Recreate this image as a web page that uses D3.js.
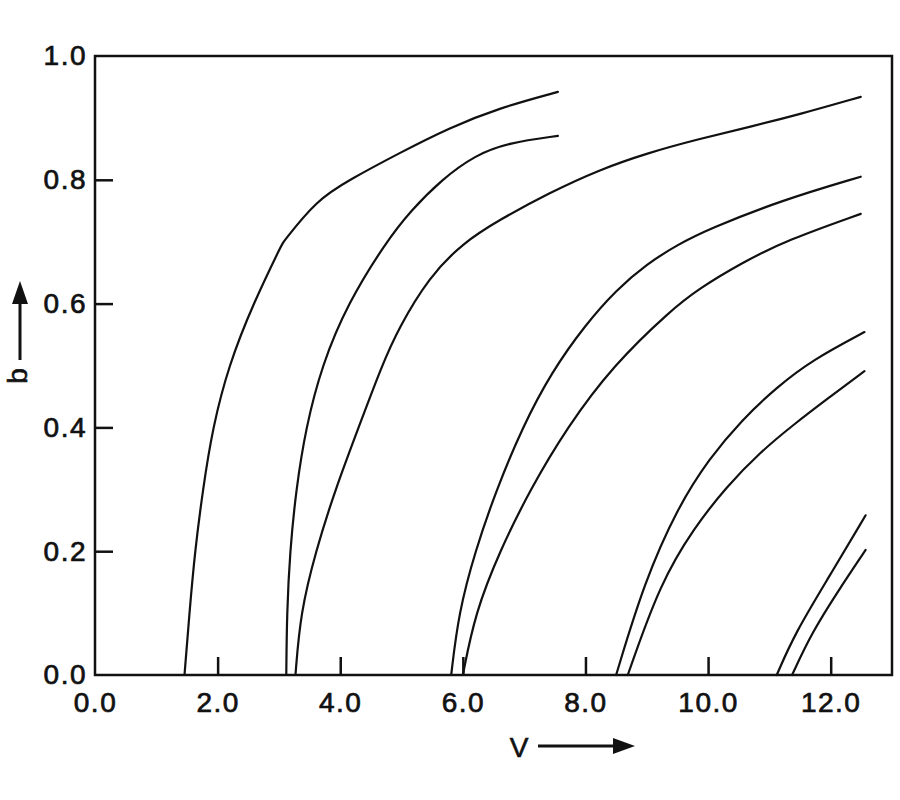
<!DOCTYPE html>
<html>
<head>
<meta charset="utf-8">
<script src="https://cdn.jsdelivr.net/npm/d3@7"></script>
<style>
  html, body { margin: 0; padding: 0; background: #fff; }
  svg { display: block; }
</style>
</head>
<body>
<svg id="chart" width="900" height="800"></svg>
<script>
// ---- data: [V, b] ----
const xTicks = [0, 2, 4, 6, 8, 10, 12];
const xTickLabels = ["0.0", "2.0", "4.0", "6.0", "8.0", "10.0", "12.0"];
const yTicks = [0, 0.2, 0.4, 0.6, 0.8, 1.0];
const yTickLabels = ["0.0", "0.2", "0.4", "0.6", "0.8", "1.0"];
const xLabel = "V";
const yLabel = "b";

const curve1 = [[1.46,0],[1.54,0.1],[1.63,0.2],[1.76,0.3],[1.92,0.4],[2.18,0.5],[2.58,0.6],[3.06,0.698],[3.06,0.698],[3.61,0.767],[4.15,0.80],[4.96,0.843],[5.78,0.884],[6.59,0.916],[7.55,0.942]];
const curve2 = [[3.12,0],[3.13,0.1],[3.18,0.2],[3.28,0.3],[3.44,0.4],[3.7,0.5],[4.12,0.6],[4.75,0.7],[5.15,0.75],[5.65,0.8],[6.2,0.84],[6.75,0.86],[7.55,0.871]];
const curve3 = [[3.27,0],[3.35,0.1],[3.6,0.2],[3.92,0.3],[4.3,0.4],[4.68,0.5],[4.95,0.56],[5.45,0.643],[6.0,0.698],[6.59,0.735],[7.41,0.779],[8.22,0.816],[9.0,0.843],[9.85,0.866],[10.7,0.886],[11.5,0.906],[12.49,0.934]];
const curve4 = [[5.81,0],[5.93,0.1],[6.2,0.2],[6.55,0.3],[6.97,0.4],[7.45,0.49],[8.0,0.566],[8.5,0.622],[9.0,0.664],[9.5,0.695],[10.0,0.72],[11.2,0.767],[12.49,0.805]];
const curve5 = [[6.0,0],[6.2,0.1],[6.6,0.2],[7.1,0.3],[7.7,0.4],[8.45,0.5],[9.4,0.59],[9.85,0.624],[10.55,0.666],[11.3,0.703],[12.49,0.745]];
const curve6 = [[8.5,0],[8.96,0.15],[9.5,0.27],[10.02,0.35],[10.55,0.412],[11.12,0.465],[11.7,0.509],[12.55,0.554]];
const curve7 = [[8.69,0],[9.22,0.149],[9.78,0.239],[10.3,0.304],[10.85,0.36],[11.4,0.405],[11.97,0.448],[12.55,0.491]];
const curve8 = [[11.12,0],[11.42,0.068],[11.97,0.158],[12.57,0.258]];
const curve9 = [[11.37,0],[11.69,0.068],[12.13,0.137],[12.57,0.202]];
const curves = [curve1, curve2, curve3, curve4, curve5, curve6, curve7, curve8, curve9];

// ---- layout ----
const svg = d3.select("#chart");
const mLeft = 95, mRight = 892, mTop = 56, mBottom = 675;
const x = d3.scaleLinear().domain([0, 13]).range([mLeft, mRight]);
const y = d3.scaleLinear().domain([0, 1]).range([mBottom, mTop]);
const font = '"Liberation Sans", Arial, Helvetica, sans-serif';

// frame
svg.append("rect")
  .attr("x", mLeft).attr("y", mTop)
  .attr("width", mRight - mLeft).attr("height", mBottom - mTop)
  .attr("fill", "none").attr("stroke", "#111").attr("stroke-width", 2.5);

// axes with inward ticks
const xAxis = d3.axisBottom(x).tickValues(xTicks)
  .tickFormat((d, i) => xTickLabels[i]).tickSizeInner(-18).tickSizeOuter(0);
const yAxis = d3.axisLeft(y).tickValues(yTicks)
  .tickFormat((d, i) => yTickLabels[i]).tickSizeInner(-18).tickSizeOuter(0);

const gx = svg.append("g").attr("transform", `translate(0,${mBottom})`).call(xAxis);
const gy = svg.append("g").attr("transform", `translate(${mLeft},0)`).call(yAxis);
[gx, gy].forEach(g => {
  g.select(".domain").remove();
  g.selectAll(".tick line").attr("stroke", "#111").attr("stroke-width", 2.5);
  g.selectAll(".tick text")
    .attr("fill", "#111").attr("stroke", "#111").attr("stroke-width", 0.7)
    .style("font-family", font).style("font-size", "28px").style("letter-spacing", "1.5px");
});
// hide ticks that coincide with frame edges
gx.selectAll(".tick").filter(d => d === 0).select("line").remove();
gy.selectAll(".tick").filter(d => d === 0 || d === 1).select("line").remove();
gx.selectAll(".tick text").attr("y", 17).attr("dy", "0.71em");
gy.selectAll(".tick text").attr("x", -8);

// curves (smooth B-spline through the read points)
const line = d3.line()
  .x(d => x(d[0])).y(d => y(d[1]))
  .curve(d3.curveBasis);
svg.append("g").selectAll("path").data(curves).join("path")
  .attr("d", line)
  .attr("fill", "none").attr("stroke", "#111").attr("stroke-width", 2.2)
  .attr("stroke-linecap", "round");

// axis labels with arrows
svg.append("text").attr("x", 519).attr("y", 757)
  .attr("text-anchor", "middle")
  .style("font-family", font).style("font-size", "28px")
  .attr("fill", "#111").attr("stroke", "#111").attr("stroke-width", 0.6)
  .text(xLabel);
svg.append("line").attr("x1", 538).attr("y1", 746).attr("x2", 618).attr("y2", 746)
  .attr("stroke", "#111").attr("stroke-width", 3);
svg.append("path").attr("d", "M635,746 L613,738 L613,754 Z").attr("fill", "#111");

svg.append("text").attr("transform", "translate(27,376) rotate(-90)")
  .attr("text-anchor", "middle")
  .style("font-family", font).style("font-size", "28px")
  .attr("fill", "#111").attr("stroke", "#111").attr("stroke-width", 0.6)
  .text(yLabel);
svg.append("line").attr("x1", 20).attr("y1", 360).attr("x2", 20).attr("y2", 300)
  .attr("stroke", "#111").attr("stroke-width", 3);
svg.append("path").attr("d", "M20,281 L12,304 L28,304 Z").attr("fill", "#111");
</script>
</body>
</html>
